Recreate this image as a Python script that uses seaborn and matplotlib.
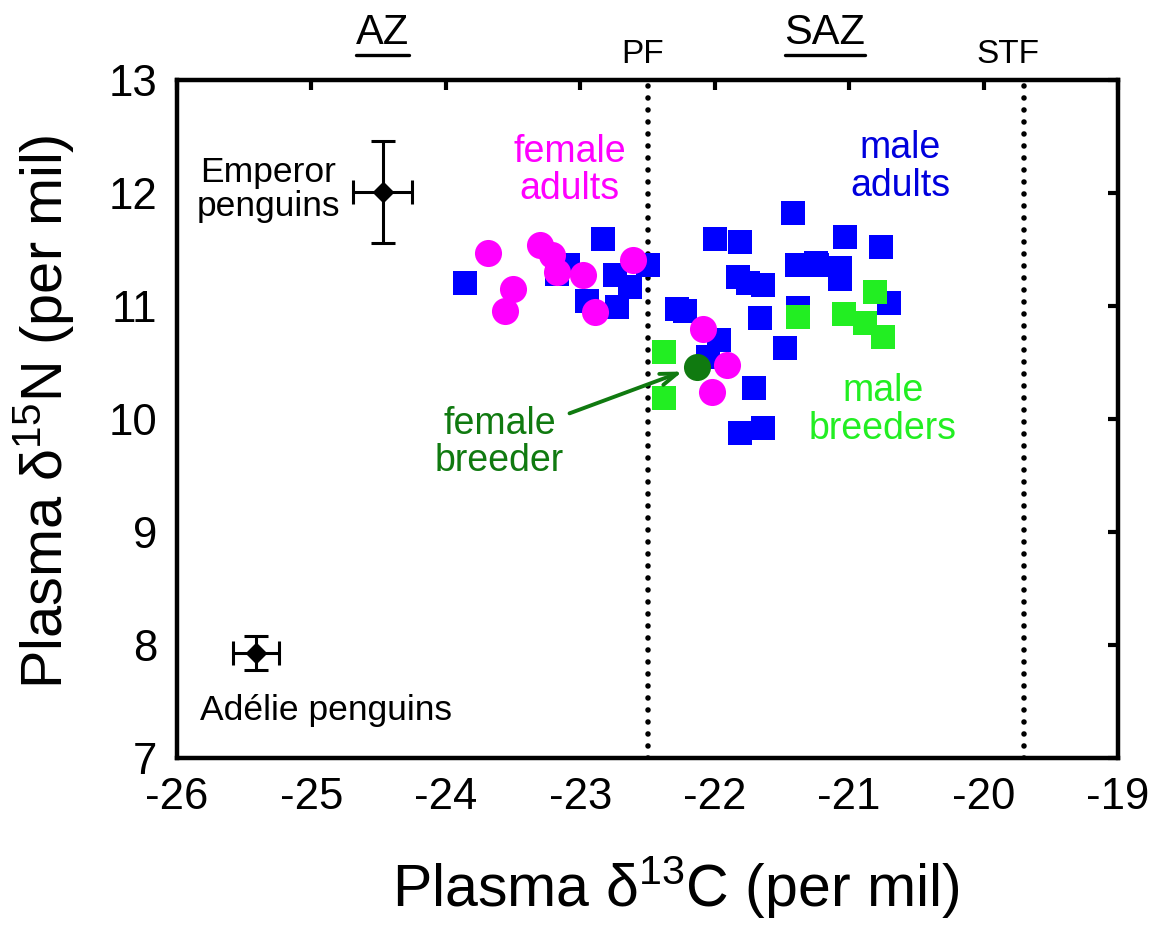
import matplotlib
matplotlib.use("Agg")
import matplotlib.pyplot as plt
import seaborn as sns
import pandas as pd
from matplotlib.lines import Line2D

# ---------------- data ----------------
male_adults_x = [-23.86, -23.09, -23.17, -22.83, -22.95, -22.74, -22.63, -22.73, -22.50,
                 -22.28, -22.22, -22.00, -21.81, -21.42, -21.39, -21.25, -21.83, -21.75,
                 -21.64, -21.66, -21.38, -21.48, -21.97, -22.05, -21.71, -21.81, -21.64,
                 -21.03, -20.76, -21.24, -21.07, -21.07, -20.70]
male_adults_y = [11.20, 11.36, 11.28, 11.59, 11.04, 11.27, 11.17, 10.99, 11.36,
                 10.97, 10.96, 11.59, 11.57, 11.82, 11.36, 11.38, 11.26, 11.20,
                 11.19, 10.89, 10.98, 10.63, 10.70, 10.55, 10.27, 9.88, 9.92,
                 11.61, 11.52, 11.36, 11.34, 11.24, 11.03]

male_breeders_x = [-22.38, -22.38, -21.38, -20.81, -21.04, -20.88, -20.75]
male_breeders_y = [10.59, 10.19, 10.90, 11.12, 10.93, 10.85, 10.73]

female_adults_x = [-23.69, -23.50, -23.56, -23.30, -23.21, -23.17, -22.98, -22.89, -22.61,
                   -22.09, -21.91, -22.02]
female_adults_y = [11.47, 11.15, 10.96, 11.54, 11.45, 11.30, 11.27, 10.95, 11.41,
                   10.80, 10.48, 10.24]

female_breeder_x = [-22.13]
female_breeder_y = [10.46]

ref_names = ["Emperor penguins", "Adélie penguins"]
ref_x = [-24.47, -25.41]
ref_y = [12.01, 7.93]
ref_xerr = [0.22, 0.17]
ref_yerr = [0.45, 0.15]

fronts_x = [-22.5, -19.7]
fronts_labels = ["PF", "STF"]
fronts_label_x = [-22.54, -19.82]
zones_x = [-24.47, -21.18]
zones_labels = ["AZ", "SAZ"]

xticks = [-26, -25, -24, -23, -22, -21, -20, -19]
yticks = [7, 8, 9, 10, 11, 12, 13]

# ---------------- style ----------------
sns.set_theme(style="white")
plt.rcParams["font.family"] = ["Liberation Sans", "DejaVu Sans"]
plt.rcParams["mathtext.fontset"] = "custom"
plt.rcParams["mathtext.rm"] = "Liberation Sans"
plt.rcParams["mathtext.it"] = "Liberation Sans"
plt.rcParams["axes.unicode_minus"] = False
plt.rcParams["text.color"] = "black"
plt.rcParams["axes.labelcolor"] = "black"

fig = plt.figure(figsize=(11.64, 9.38), dpi=100)
ax = fig.add_axes([177 / 1164, 1 - 758 / 938, 941 / 1164, 678 / 938])

BLUE = "#0000FF"
LIME = "#22EE22"
MAGENTA = "#FF00FF"
DKGREEN = "#107A10"

df_ma = pd.DataFrame({"x": male_adults_x, "y": male_adults_y})
df_mb = pd.DataFrame({"x": male_breeders_x, "y": male_breeders_y})
df_fa = pd.DataFrame({"x": female_adults_x, "y": female_adults_y})
df_fb = pd.DataFrame({"x": female_breeder_x, "y": female_breeder_y})

sns.scatterplot(data=df_ma, x="x", y="y", marker="s", s=290, color=BLUE, linewidth=0, ax=ax, zorder=3)
sns.scatterplot(data=df_mb, x="x", y="y", marker="s", s=290, color=LIME, linewidth=0, ax=ax, zorder=4)
sns.scatterplot(data=df_fa, x="x", y="y", marker="o", s=380, color=MAGENTA, linewidth=0, ax=ax, zorder=5)
sns.scatterplot(data=df_fb, x="x", y="y", marker="o", s=380, color=DKGREEN, linewidth=0, ax=ax, zorder=6)

ax.errorbar(ref_x, ref_y, xerr=ref_xerr, yerr=ref_yerr, fmt="D", color="black",
            markersize=10, elinewidth=2.2, capsize=8.5, capthick=2.2, zorder=7)

for fx in fronts_x:
    ax.axvline(fx, color="black", linewidth=4.0, linestyle=(0, (0.01, 2.15)),
               dash_capstyle="round", zorder=2)

ax.set_xlim(-26, -19)
ax.set_ylim(7, 13)
ax.set_xticks(xticks)
ax.set_yticks(yticks)
ax.tick_params(axis="both", which="major", direction="in", length=7, width=3,
               top=True, right=True, labelsize=31.5, colors="black")
ax.tick_params(axis="x", pad=14)
ax.tick_params(axis="y", pad=14)
for sp in ax.spines.values():
    sp.set_linewidth(3.2)
    sp.set_color("black")

ax.set_xlabel("Plasma δ$^{13}$C (per mil)", fontsize=42.5, color="black")
ax.set_ylabel("Plasma δ$^{15}$N (per mil)", fontsize=41.5, color="black")
ax.xaxis.set_label_coords(0.53, -0.142)
ax.yaxis.set_label_coords(-0.107, 0.51)

# annotations
ax.text(-25.32, 12.03, "Emperor\npenguins", ha="center", va="center", fontsize=25.5,
        color="black", linespacing=1.05)
ax.text(-24.89, 7.42, "Adélie penguins", ha="center", va="center", fontsize=25.5, color="black")
ax.text(-23.08, 12.20, "female\nadults", ha="center", va="center", fontsize=27,
        color=MAGENTA, linespacing=1.05)
ax.text(-20.62, 12.23, "male\nadults", ha="center", va="center", fontsize=27,
        color="#0000DD", linespacing=1.05)
ax.text(-20.75, 10.08, "male\nbreeders", ha="center", va="center", fontsize=27,
        color=LIME, linespacing=1.05)
ax.text(-23.60, 9.79, "female\nbreeder", ha="center", va="center", fontsize=27,
        color=DKGREEN, linespacing=1.05)
ax.annotate("", xy=(female_breeder_x[0] - 0.11, female_breeder_y[0] - 0.04),
            xytext=(-23.08, 10.05),
            arrowprops=dict(arrowstyle="->,head_length=1.0,head_width=0.35", color=DKGREEN,
                            lw=2.8, shrinkA=0, shrinkB=0), zorder=8)

# top labels
trans = ax.get_xaxis_transform()
for fx, lab in zip(fronts_label_x, fronts_labels):
    ax.text(fx, 1.038, lab, transform=trans, ha="center", va="center",
            fontsize=24, color="black", clip_on=False)
ztexts = []
for zx, lab in zip(zones_x, zones_labels):
    t = ax.text(zx, 1.07, lab, transform=trans, ha="center", va="center",
                fontsize=30, color="black", clip_on=False)
    ztexts.append(t)

fig.canvas.draw()
renderer = fig.canvas.get_renderer()
for t in ztexts:
    bb = t.get_window_extent(renderer)
    y0 = bb.y0 - 2
    fig.add_artist(Line2D([bb.x0 / fig.bbox.width, bb.x1 / fig.bbox.width],
                          [y0 / fig.bbox.height, y0 / fig.bbox.height],
                          transform=fig.transFigure, color="black", linewidth=2.4))

fig.savefig("out.png", dpi=100)
